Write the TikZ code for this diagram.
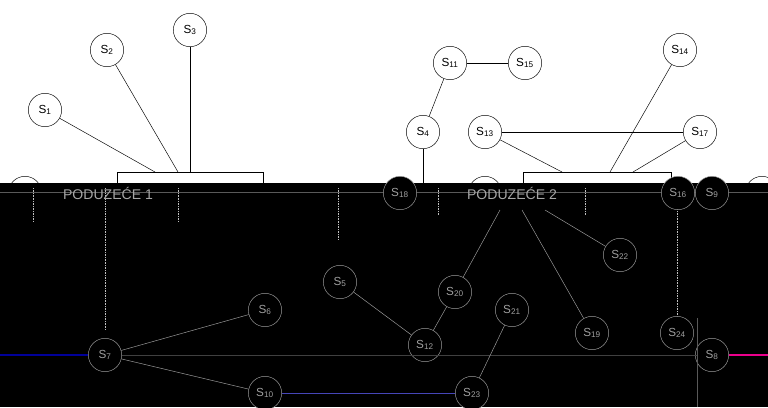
\documentclass[tikz,border=0pt]{standalone}
\usepackage{fontspec}
\setmainfont{Liberation Sans}
\usetikzlibrary{positioning}

\begin{document}
\begin{tikzpicture}[x=0.03cm, y=-0.03cm,
% Node styles
 stn/.style={circle, draw, minimum size=1cm, inner sep=0pt, fill=white,
 font=\fontsize{10}{12}\selectfont},
 dark/.style={draw=gray!75, fill=black, text=gray!75},
 firm/.style={font=\fontsize{12}{14}\selectfont, text=gray!70},
% Edge styles
 edge/.style={draw, thin},
 gedge/.style={draw=gray!75, thin},
 guide/.style={draw=gray!50, densely dotted}
]
\useasboundingbox (0,0) rectangle (768,407);
\fill[white] (0,0) rectangle (768,183);
% Upper part: stations above the firms
\node[stn] (s1) at (45,110) {S\textsubscript{1}};
\node[stn] (s2) at (107,50) {S\textsubscript{2}};
\node[stn] (s3) at (190,30) {S\textsubscript{3}};
\node[stn] (s4) at (423,132) {S\textsubscript{4}};
\node[stn] (s11) at (450,63) {S\textsubscript{11}};
\node[stn] (s15) at (525,63) {S\textsubscript{15}};
\node[stn] (s13) at (485,132) {S\textsubscript{13}};
\node[stn] (s17) at (700,132) {S\textsubscript{17}};
\node[stn] (s14) at (680,50) {S\textsubscript{14}};
% Stations cut by the dark part
\node[stn] (cut1) at (25,193) {};
\node[stn] (cut2) at (485,193) {};
\node[stn] (cut3) at (762,193) {};
% Firm boxes
\draw (117,200) |- (263,172) -- (263,200);
\draw (523,200) |- (671,172) -- (671,200);
\coordinate (f1a) at (155,172);
\coordinate (f1b) at (178,172);
\coordinate (f1c) at (190,172);
\coordinate (f2a) at (562,172);
\coordinate (f2b) at (610,172);
\coordinate (f2c) at (633,172);
\coordinate (s4end) at (423,183);
\draw[edge] (s1) -- (f1a);
\draw[edge] (s2) -- (f1b);
\draw[edge] (s3) -- (f1c);
\draw[edge] (s13) -- (f2a);
\draw[edge] (s14) -- (f2b);
\draw[edge] (s17) -- (f2c);
\draw[edge] (s13) -- (s17);
\draw[edge] (s11) -- (s15);
\draw[edge] (s11) -- (s4);
\draw[edge] (s4) -- (s4end);
% Lower part
\fill[black] (0,183) rectangle (768,407);
\draw[black!65] (0,192) -- (768,192);
\foreach \gx/\gy in {33/222, 105/330, 178/222, 338/240, 438/215, 585/215, 677/318}
 \draw[guide] (\gx,188) -- (\gx,\gy);
\node[firm] (firm1) at (108,193) {PODUZEĆE 1};
\node[firm] (firm2) at (512,193) {PODUZEĆE 2};
\node[stn, dark] (s18) at (400,193) {S\textsubscript{18}};
\node[stn, dark] (s16) at (678,193) {S\textsubscript{16}};
\node[stn, dark] (s9) at (712,193) {S\textsubscript{9}};
\node[stn, dark] (s7) at (105,355) {S\textsubscript{7}};
\node[stn, dark] (s6) at (265,310) {S\textsubscript{6}};
\node[stn, dark] (s10) at (265,393) {S\textsubscript{10}};
\node[stn, dark] (s5) at (340,282) {S\textsubscript{5}};
\node[stn, dark] (s12) at (425,345) {S\textsubscript{12}};
\node[stn, dark] (s20) at (455,292) {S\textsubscript{20}};
\node[stn, dark] (s21) at (512,310) {S\textsubscript{21}};
\node[stn, dark] (s23) at (472,393) {S\textsubscript{23}};
\node[stn, dark] (s19) at (592,333) {S\textsubscript{19}};
\node[stn, dark] (s22) at (620,255) {S\textsubscript{22}};
\node[stn, dark] (s24) at (677,333) {S\textsubscript{24}};
\node[stn, dark] (s8) at (712,355) {S\textsubscript{8}};
\coordinate (f2d) at (500,210);
\coordinate (f2e) at (522,210);
\coordinate (f2f) at (545,210);
\coordinate (west) at (0,355);
\coordinate (east) at (768,355);
\coordinate (mideast) at (697,355);
\draw[black!75] (s7) -- (mideast);
\draw[black!65] (697,318) -- (697,407);
\draw[blue!60!black, line width=1pt] (west) -- (s7);
\draw[magenta, line width=1pt] (s8) -- (east);
\draw[gedge] (s7) -- (s6);
\draw[gedge] (s7) -- (s10);
\draw[gedge, draw=blue!45!gray] (s10) -- (s23);
\draw[gedge] (s5) -- (s12);
\draw[gedge] (s12) -- (s20);
\draw[gedge] (s21) -- (s23);
\draw[gedge] (f2d) -- (s20);
\draw[gedge] (f2e) -- (s19);
\draw[gedge] (f2f) -- (s22);
\end{tikzpicture}
\end{document}
